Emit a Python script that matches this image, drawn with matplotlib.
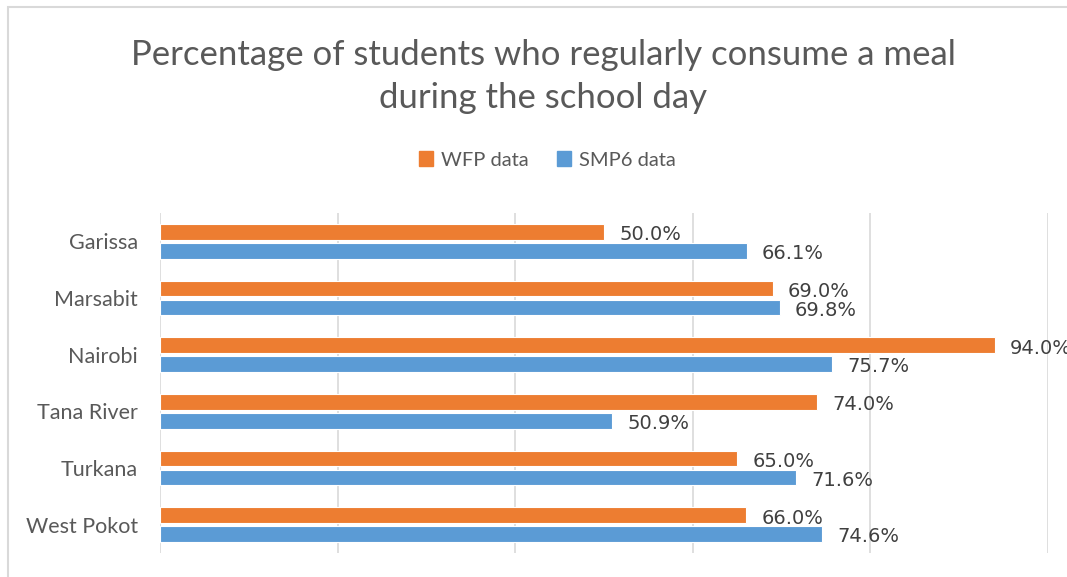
import numpy as np
import matplotlib
matplotlib.use("Agg")
import matplotlib.pyplot as plt
from matplotlib.patches import Patch, Rectangle

regions = ["Garissa", "Marsabit", "Nairobi", "Tana River", "Turkana", "West Pokot"]
wfp = [50.0, 69.0, 94.0, 74.0, 65.0, 66.0]
smp6 = [66.1, 69.8, 75.7, 50.9, 71.6, 74.6]

orange = "#ED7D31"
blue = "#5B9BD5"
grey_txt = "#595959"
lab_txt = "#404040"

W, H = 1067, 577
fig = plt.figure(figsize=(W / 100, H / 100), dpi=100)
ax = fig.add_axes([160 / W, 1 - 553 / H, (1048 - 160) / W, (553 - 213) / H])

y = np.arange(len(regions))
off = 0.167
bh = 0.28
wv = np.array(wfp) / 100
sv = np.array(smp6) / 100
ax.barh(y - off, wv, height=bh, color=orange, edgecolor="white", linewidth=0.8, zorder=3)
ax.barh(y + off, sv, height=bh, color=blue, edgecolor="white", linewidth=0.8, zorder=3)

# data labels
for yi, v in zip(y - off, wv):
    ax.text(v + 0.017, yi + 0.05, "%.1f%%" % (v * 100), va="center", ha="left",
            fontsize=14, color=lab_txt, family="DejaVu Sans", clip_on=False)
for yi, v in zip(y + off, sv):
    ax.text(v + 0.017, yi + 0.05, "%.1f%%" % (v * 100), va="center", ha="left",
            fontsize=14, color=lab_txt, family="DejaVu Sans", clip_on=False)

ax.set_xlim(0, 1)
ax.set_ylim(len(regions) - 0.5, -0.5)
ax.set_xticks(np.arange(0, 1.01, 0.2))
ax.set_xticklabels([])
ax.set_yticks(y)
ax.set_yticklabels(regions, family="Lato", fontsize=15.5, color=grey_txt)
ax.tick_params(axis="both", length=0)
ax.tick_params(axis="y", pad=16)
ax.grid(axis="x", color="#d9d9d9", linewidth=1.2, zorder=0)
for s in ax.spines.values():
    s.set_visible(False)

# title, two lines
fig.text(543 / W, 1 - 65 / H, "Percentage of students who regularly consume a meal",
         ha="center", va="baseline", family="Lato", fontsize=25, color=grey_txt)
fig.text(543 / W, 1 - 108 / H, "during the school day",
         ha="center", va="baseline", family="Lato", fontsize=25, color=grey_txt)

handles = [Patch(color=orange, label="WFP data"), Patch(color=blue, label="SMP6 data")]
fig.legend(handles=handles, loc="center", bbox_to_anchor=(547 / W, 1 - 160 / H), ncol=2,
           frameon=False, handlelength=0.7, handleheight=0.7, handletextpad=0.4,
           columnspacing=1.4, prop={"family": "Lato", "size": 14.5}, labelcolor=grey_txt)

# chart area border
fig.add_artist(Rectangle((8 / W, -0.1), 2, 1 - 7 / H + 0.1, transform=fig.transFigure,
                         fill=False, edgecolor="#d9d9d9", linewidth=1.5))

fig.savefig("out.png", dpi=100)
